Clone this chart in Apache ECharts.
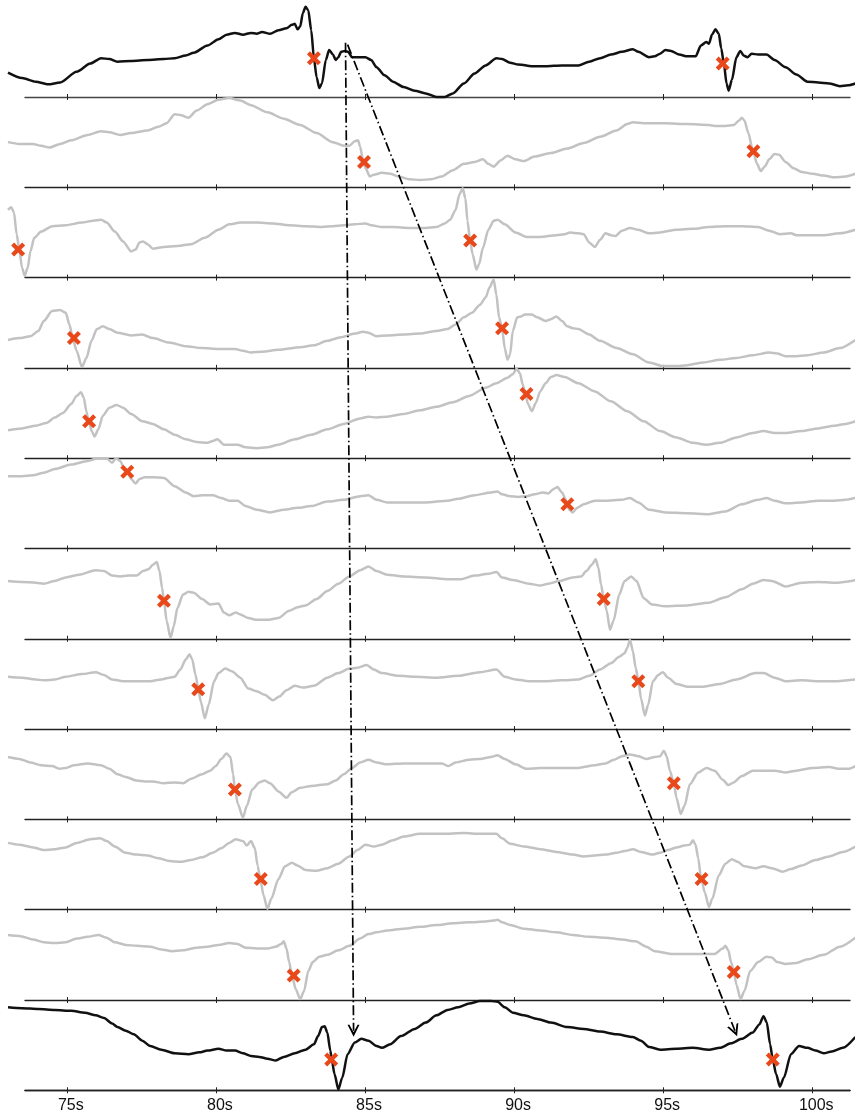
<!DOCTYPE html>
<html><head><meta charset="utf-8">
<script src="https://cdn.jsdelivr.net/npm/echarts@6/dist/echarts.min.js"></script>
<style>html,body{margin:0;padding:0;background:#fff}#c{width:855px;height:1114px}</style>
</head><body><div id="c"></div>
<script>
// ---- data (time in seconds, amplitude in % of panel height) ----
const tickSeconds = [75, 80, 85, 90, 95, 100];

const panel1 = [[73.01,27],[73.48,21],[73.94,17],[74.36,14],[74.76,16],[75.31,28],[75.77,37],[76.13,43],[76.41,42],[76.68,39],[77.14,40],[77.69,41],[78.24,42],[78.60,43],[78.97,46],[79.24,49],[79.70,57],[80.07,64],[80.34,69],[80.62,71],[80.89,69],[81.16,71],[81.35,70],[81.53,72],[81.80,70],[82.08,74],[82.35,76],[82.53,80],[82.63,81],[82.72,75],[82.81,78],[82.90,93],[82.99,100],[83.08,96],[83.18,74],[83.27,43],[83.36,22],[83.45,10],[83.54,15],[83.67,41],[83.78,52],[83.91,47],[84.00,41],[84.09,44],[84.18,50],[84.31,51],[84.42,50],[84.55,44],[84.73,44],[85.00,44],[85.19,41],[85.37,33],[85.64,24],[85.92,17],[86.28,11],[86.65,7],[87.02,4],[87.38,0],[87.66,0],[87.93,4],[88.30,15],[88.66,26],[89.03,35],[89.39,43],[89.58,42],[89.85,38],[90.12,36],[90.67,34],[91.04,34],[91.59,35],[92.14,35],[92.50,39],[92.87,43],[93.23,47],[93.60,50],[93.97,53],[94.15,50],[94.51,44],[94.70,45],[94.88,48],[95.06,52],[95.25,51],[95.52,47],[95.79,45],[96.07,45],[96.25,57],[96.43,61],[96.52,59],[96.62,69],[96.74,75],[96.85,70],[96.93,54],[97.02,37],[97.11,15],[97.18,7],[97.29,19],[97.44,44],[97.57,51],[97.68,46],[97.81,44],[97.95,48],[98.17,47],[98.45,47],[98.72,41],[99.09,33],[99.45,25],[99.82,17],[100.18,16],[100.55,15],[100.91,12],[101.19,13],[101.43,15]];
const panel2 = [[73.01,50],[73.39,48],[73.85,48],[74.12,46],[74.40,44],[74.76,48],[75.13,52],[75.68,58],[76.13,62],[76.41,61],[76.77,58],[77.14,60],[77.69,63],[78.05,67],[78.33,71],[78.60,81],[78.79,80],[79.06,77],[79.34,85],[79.70,92],[80.07,97],[80.43,99],[80.80,96],[81.16,91],[81.71,83],[82.26,76],[82.81,69],[83.36,60],[83.91,50],[84.27,46],[84.46,46],[84.64,51],[84.75,52],[84.82,45],[84.91,31],[85.00,21],[85.15,12],[85.28,14],[85.55,16],[85.83,15],[86.10,12],[86.47,9],[86.83,8],[87.20,9],[87.56,12],[87.93,19],[88.30,26],[88.66,28],[88.94,31],[89.12,26],[89.30,23],[89.54,30],[89.76,35],[90.03,31],[90.31,29],[90.67,34],[91.22,38],[91.77,43],[92.32,49],[92.87,56],[93.42,63],[93.78,70],[93.97,72],[94.33,71],[95.06,71],[95.79,70],[96.52,69],[96.71,68],[97.07,68],[97.35,69],[97.53,74],[97.62,77],[97.71,74],[97.84,60],[97.99,41],[98.13,26],[98.26,18],[98.39,23],[98.54,31],[98.72,37],[98.87,36],[99.09,28],[99.36,21],[99.63,17],[100.00,15],[100.37,13],[100.73,11],[101.10,12],[101.43,15]];
const panel3 = [[73.01,75],[73.12,78],[73.21,72],[73.30,48],[73.39,31],[73.48,11],[73.57,2],[73.67,11],[73.76,29],[73.89,44],[74.12,51],[74.49,57],[74.95,58],[75.49,61],[75.86,63],[76.13,64],[76.32,61],[76.59,51],[76.87,40],[77.14,29],[77.29,31],[77.42,39],[77.54,40],[77.69,37],[77.87,32],[78.24,34],[78.69,35],[79.15,37],[79.61,44],[80.07,53],[80.43,59],[80.80,61],[81.35,61],[81.89,60],[82.44,58],[82.99,57],[83.54,56],[83.91,57],[84.27,58],[84.64,59],[85.00,60],[85.19,58],[85.55,56],[85.92,56],[86.47,55],[87.02,55],[87.38,56],[87.66,60],[87.84,64],[88.02,75],[88.15,92],[88.26,99],[88.35,88],[88.42,63],[88.51,41],[88.59,26],[88.72,9],[88.81,15],[88.94,33],[89.12,53],[89.30,63],[89.43,64],[89.67,59],[90.03,50],[90.40,45],[90.86,45],[91.40,47],[91.68,48],[91.86,50],[92.14,49],[92.32,48],[92.50,39],[92.69,34],[92.87,42],[93.05,49],[93.23,47],[93.38,46],[93.60,52],[93.87,55],[94.15,53],[94.51,49],[94.88,50],[95.43,53],[95.98,54],[96.52,56],[97.07,57],[97.62,57],[98.17,56],[98.54,52],[98.90,48],[99.27,49],[99.45,47],[99.82,47],[100.37,47],[100.91,49],[101.43,53]];
const panel4 = [[73.01,31],[73.39,33],[73.76,35],[74.03,41],[74.21,52],[74.49,63],[74.76,64],[74.95,61],[75.07,48],[75.18,33],[75.31,19],[75.49,1],[75.64,11],[75.81,30],[75.99,43],[76.19,46],[76.41,43],[76.68,39],[77.14,36],[77.51,37],[77.87,33],[78.42,28],[78.97,24],[79.52,22],[80.07,21],[80.62,21],[80.89,19],[81.16,17],[81.53,18],[82.08,20],[82.81,23],[83.27,25],[83.72,30],[84.18,34],[84.64,38],[84.91,40],[85.10,39],[85.37,35],[85.73,36],[86.28,37],[86.83,38],[87.38,41],[87.75,43],[88.02,48],[88.30,56],[88.57,61],[88.84,70],[89.03,78],[89.16,89],[89.30,98],[89.39,81],[89.48,56],[89.58,44],[89.67,22],[89.76,9],[89.85,15],[89.94,41],[90.09,56],[90.22,57],[90.34,59],[90.58,59],[90.76,56],[91.04,52],[91.22,54],[91.40,57],[91.59,52],[91.77,46],[91.95,44],[92.14,43],[92.50,37],[92.87,30],[93.42,22],[93.97,15],[94.51,6],[94.97,2],[95.43,2],[95.79,3],[96.34,6],[96.89,9],[97.44,11],[97.99,14],[98.54,17],[98.81,16],[99.09,13],[99.45,13],[99.82,14],[100.37,17],[100.91,22],[101.43,31]];
const panel5 = [[73.01,31],[73.48,33],[73.94,36],[74.30,39],[74.58,45],[74.85,50],[75.13,60],[75.31,69],[75.46,73],[75.55,67],[75.64,52],[75.71,41],[75.82,30],[75.91,24],[76.04,32],[76.19,47],[76.41,56],[76.65,59],[76.87,56],[77.14,49],[77.51,41],[77.87,38],[78.24,32],[78.60,26],[78.97,21],[79.34,18],[79.70,17],[79.88,19],[80.03,21],[80.25,15],[80.52,15],[80.71,15],[80.98,12],[81.35,11],[81.71,12],[82.08,15],[82.63,21],[83.18,26],[83.72,32],[84.27,38],[84.82,44],[85.10,46],[85.37,45],[85.73,46],[86.28,49],[86.83,53],[87.38,57],[87.93,62],[88.48,69],[89.03,78],[89.39,83],[89.76,89],[89.94,93],[90.07,99],[90.18,94],[90.27,82],[90.36,71],[90.45,60],[90.58,52],[90.71,61],[90.86,74],[91.04,83],[91.22,90],[91.40,92],[91.68,90],[92.14,83],[92.69,74],[93.23,63],[93.78,52],[94.33,41],[94.88,30],[95.43,23],[95.98,17],[96.43,15],[96.89,17],[97.44,23],[97.99,28],[98.35,30],[98.72,28],[99.09,28],[99.63,30],[100.18,33],[100.73,36],[101.10,38],[101.43,41]];
const panel6 = [[73.01,80],[73.48,80],[73.85,81],[74.21,84],[74.58,88],[75.13,93],[75.68,97],[76.04,100],[76.32,100],[76.50,95],[76.63,100],[76.77,97],[76.92,88],[77.01,85],[77.14,77],[77.29,72],[77.42,77],[77.60,79],[77.87,79],[78.24,78],[78.60,69],[78.97,62],[79.24,58],[79.52,59],[79.88,59],[80.16,56],[80.43,53],[80.71,53],[80.98,47],[81.35,43],[81.80,40],[82.26,43],[82.72,45],[83.18,47],[83.72,52],[84.27,54],[84.82,58],[85.10,59],[85.37,54],[85.73,51],[86.28,51],[87.02,51],[87.75,53],[88.11,55],[88.66,59],[89.21,62],[89.43,63],[89.58,60],[89.85,58],[90.12,57],[90.40,58],[90.67,60],[90.95,62],[91.13,61],[91.31,66],[91.44,68],[91.59,62],[91.72,54],[91.83,43],[91.95,40],[92.10,45],[92.32,49],[92.69,53],[93.05,53],[93.60,54],[93.87,56],[94.15,51],[94.51,43],[95.06,40],[95.79,39],[96.52,38],[97.07,41],[97.62,49],[98.17,54],[98.45,56],[98.72,53],[99.09,50],[99.63,51],[100.18,53],[100.73,53],[101.10,54],[101.43,56]];
const panel7 = [[73.01,64],[73.48,63],[73.94,62],[74.21,61],[74.58,64],[74.95,68],[75.40,71],[75.95,76],[76.23,75],[76.50,70],[76.77,69],[77.05,70],[77.32,70],[77.54,75],[77.72,77],[77.87,82],[78.00,85],[78.09,75],[78.18,56],[78.24,42],[78.33,20],[78.46,1],[78.57,14],[78.69,34],[78.88,49],[79.06,52],[79.24,51],[79.52,44],[79.79,38],[80.07,39],[80.25,29],[80.43,26],[80.65,29],[80.80,27],[81.07,23],[81.35,21],[81.71,21],[82.08,23],[82.44,31],[82.72,35],[82.99,37],[83.36,44],[83.72,53],[84.09,61],[84.46,69],[84.82,76],[85.10,80],[85.37,75],[85.73,71],[86.28,69],[87.02,68],[87.75,66],[88.20,66],[88.66,70],[89.12,72],[89.39,74],[89.58,68],[89.94,65],[90.49,61],[90.86,59],[91.13,61],[91.50,64],[91.95,68],[92.23,69],[92.41,75],[92.59,82],[92.72,88],[92.81,79],[92.90,60],[92.99,45],[93.09,31],[93.20,10],[93.32,20],[93.51,49],[93.69,64],[93.91,69],[94.09,64],[94.33,45],[94.61,38],[95.06,36],[95.79,37],[96.52,40],[97.07,46],[97.62,55],[97.99,61],[98.35,65],[98.63,64],[99.09,58],[99.63,62],[100.18,63],[100.73,62],[101.43,65]];
const panel8 = [[73.01,58],[73.48,57],[73.94,55],[74.21,54],[74.58,55],[74.95,58],[75.49,61],[75.95,63],[76.23,60],[76.50,55],[76.87,53],[77.32,53],[77.78,53],[78.15,55],[78.42,57],[78.60,58],[78.79,66],[78.97,77],[79.10,83],[79.19,77],[79.30,60],[79.39,45],[79.48,30],[79.61,12],[79.74,27],[79.92,53],[80.07,62],[80.29,67],[80.52,64],[80.80,57],[81.07,45],[81.35,42],[81.62,38],[81.89,32],[82.11,36],[82.35,43],[82.63,48],[82.90,46],[83.27,48],[83.72,57],[84.09,62],[84.46,67],[84.73,68],[85.04,71],[85.28,66],[85.55,62],[86.10,59],[86.65,58],[87.38,57],[88.11,59],[88.84,63],[89.39,66],[89.67,58],[90.03,55],[90.49,53],[91.04,53],[91.59,54],[92.14,55],[92.50,59],[92.87,66],[93.23,73],[93.51,80],[93.69,84],[93.78,90],[93.87,99],[93.97,86],[94.06,68],[94.15,54],[94.24,34],[94.37,15],[94.48,27],[94.64,53],[94.82,60],[94.97,63],[95.15,57],[95.43,50],[95.79,47],[96.34,47],[96.89,50],[97.44,55],[98.08,62],[98.35,62],[98.72,57],[99.09,53],[99.63,54],[100.18,53],[100.73,53],[101.43,55]];
const panel9 = [[73.01,69],[73.39,67],[73.76,63],[74.12,60],[74.49,59],[74.73,56],[74.95,57],[75.22,60],[75.68,62],[76.13,60],[76.41,56],[76.68,50],[76.96,47],[77.32,43],[77.60,42],[77.87,42],[78.24,40],[78.60,41],[78.88,40],[79.15,45],[79.52,50],[79.79,54],[79.98,59],[80.16,67],[80.34,73],[80.47,69],[80.56,50],[80.62,33],[80.72,17],[80.89,2],[81.02,15],[81.20,33],[81.44,41],[81.62,43],[81.80,40],[82.08,31],[82.35,24],[82.53,30],[82.81,35],[83.18,37],[83.72,39],[84.00,43],[84.27,50],[84.55,57],[84.82,63],[85.10,66],[85.37,63],[85.73,61],[86.28,62],[87.02,62],[87.56,62],[87.78,59],[88.02,63],[88.48,66],[88.84,67],[89.21,69],[89.43,71],[89.67,67],[90.03,61],[90.40,56],[90.86,57],[91.40,57],[92.14,57],[92.69,60],[93.05,62],[93.33,66],[93.60,70],[93.87,72],[94.15,70],[94.42,67],[94.70,69],[94.88,70],[95.01,76],[95.10,70],[95.21,54],[95.34,40],[95.43,24],[95.57,6],[95.70,15],[95.88,39],[96.16,52],[96.43,57],[96.71,54],[96.98,44],[97.17,38],[97.35,41],[97.62,48],[97.99,54],[98.35,54],[98.72,54],[99.09,52],[99.45,54],[100.00,57],[100.55,58],[100.91,56],[101.19,56],[101.43,59]];
const panel10 = [[73.01,74],[73.39,72],[73.85,69],[74.21,66],[74.58,67],[74.95,69],[75.31,74],[75.77,78],[76.10,79],[76.32,76],[76.59,70],[76.96,63],[77.32,61],[77.69,60],[78.05,57],[78.42,54],[78.79,53],[79.15,55],[79.52,58],[79.88,63],[80.16,68],[80.43,74],[80.65,78],[80.89,76],[81.02,71],[81.16,76],[81.29,68],[81.38,49],[81.47,34],[81.58,16],[81.71,1],[81.84,12],[82.08,34],[82.30,48],[82.53,52],[82.72,49],[82.99,44],[83.36,43],[83.72,46],[84.09,51],[84.46,59],[84.73,66],[85.00,72],[85.28,70],[85.55,72],[85.92,77],[86.28,81],[86.83,84],[87.56,84],[88.30,85],[88.84,84],[89.39,84],[89.58,79],[89.85,73],[90.31,70],[90.86,67],[91.40,64],[91.95,61],[92.32,59],[92.69,60],[93.05,61],[93.42,63],[93.69,65],[93.97,67],[94.24,64],[94.61,61],[94.88,63],[95.15,66],[95.43,69],[95.70,71],[95.88,72],[95.98,77],[96.07,72],[96.16,57],[96.25,36],[96.38,19],[96.52,3],[96.63,12],[96.85,38],[97.07,51],[97.29,56],[97.48,53],[97.71,48],[98.08,46],[98.35,48],[98.63,46],[98.99,42],[99.27,45],[99.63,49],[100.09,55],[100.55,59],[101.01,64],[101.43,70]];
const panel11 = [[73.01,72],[73.39,71],[73.85,67],[74.21,64],[74.58,63],[74.95,64],[75.31,68],[75.68,70],[76.04,72],[76.32,69],[76.59,64],[76.96,61],[77.32,60],[77.78,59],[78.15,56],[78.51,54],[78.88,55],[79.34,58],[79.70,59],[80.07,61],[80.43,63],[80.71,62],[80.98,58],[81.35,57],[81.71,57],[81.99,59],[82.17,62],[82.26,65],[82.35,57],[82.44,42],[82.53,28],[82.66,12],[82.81,1],[82.94,10],[83.08,32],[83.23,42],[83.45,48],[83.72,50],[84.09,55],[84.46,60],[84.82,68],[85.10,73],[85.37,75],[85.73,77],[86.28,79],[86.83,81],[87.38,83],[87.93,85],[88.48,86],[89.03,87],[89.30,88],[89.43,89],[89.58,86],[89.85,83],[90.31,79],[90.86,77],[91.40,75],[91.95,72],[92.50,70],[93.05,69],[93.60,67],[94.06,65],[94.42,59],[94.70,54],[95.25,51],[95.79,51],[96.34,51],[96.71,51],[96.98,57],[97.07,60],[97.17,55],[97.26,42],[97.35,32],[97.44,17],[97.58,1],[97.71,10],[97.90,32],[98.17,42],[98.45,48],[98.63,47],[98.81,42],[99.09,40],[99.45,41],[99.82,45],[100.37,50],[100.91,59],[101.43,69]];
const panel12 = [[73.01,92],[73.48,91],[74.03,90],[74.58,89],[75.13,88],[75.59,86],[75.95,83],[76.23,80],[76.50,74],[76.68,70],[76.96,66],[77.23,62],[77.51,55],[77.78,49],[78.15,45],[78.60,41],[79.06,40],[79.43,42],[79.70,44],[80.07,46],[80.34,44],[80.62,44],[80.89,41],[81.16,38],[81.44,37],[81.71,35],[81.99,33],[82.26,37],[82.63,41],[82.99,45],[83.27,51],[83.41,60],[83.54,70],[83.63,71],[83.72,64],[83.82,44],[83.87,34],[83.96,18],[84.09,1],[84.22,14],[84.40,40],[84.64,53],[84.86,57],[85.10,55],[85.37,49],[85.55,47],[85.83,51],[86.19,60],[86.65,68],[87.02,75],[87.38,83],[87.75,89],[88.11,92],[88.48,96],[88.84,99],[89.21,99],[89.43,98],[89.67,92],[89.94,86],[90.31,83],[90.76,79],[91.22,75],[91.77,70],[92.32,68],[92.87,65],[93.42,62],[93.97,59],[94.24,55],[94.51,48],[94.88,45],[95.43,46],[95.98,47],[96.52,45],[96.89,47],[97.26,52],[97.62,57],[97.99,64],[98.21,73],[98.35,82],[98.46,75],[98.57,51],[98.66,34],[98.77,18],[98.90,4],[99.03,14],[99.27,40],[99.54,49],[99.82,47],[100.09,44],[100.37,41],[100.64,43],[101.01,47],[101.43,59]];

const marks1 = [[83.27,43],[96.98,37]];
const marks2 = [[84.95,28],[98.01,40]];
const marks3 = [[73.35,31],[88.51,41]];
const marks4 = [[75.22,33],[89.58,44]];
const marks5 = [[75.73,41],[90.40,71]];
const marks6 = [[77.01,85],[91.77,49]];
const marks7 = [[78.24,42],[92.99,44]];
const marks8 = [[79.39,44],[94.15,53]];
const marks9 = [[80.62,33],[95.34,40]];
const marks10 = [[81.49,34],[96.27,34]];
const marks11 = [[82.59,27],[97.35,31]];
const marks12 = [[83.85,34],[98.66,34]];

// arrows in (seconds, panel-units counted from the bottom axis; 12 = top line)
const arrowToFirst = [[84.33, 11.60], [84.60, 0.66]];
const arrowToSecond = [[84.40, 11.58], [97.39, 0.66]];

const traces = [panel1,panel2,panel3,panel4,panel5,panel6,panel7,panel8,panel9,panel10,panel11,panel12];
const marks = [marks1,marks2,marks3,marks4,marks5,marks6,marks7,marks8,marks9,marks10,marks11,marks12];

// ---- layout ----
const W = 855;
const X_MIN = 73.58, X_MAX = 101.25;
const TOP = 6.7, PH = 90.3, LEFT = 25, RIGHT = 5;
const PPS = (W - LEFT - RIGHT) / (X_MAX - X_MIN);
// wider plotting range (whole page width) with exactly the same scale
const CX_MIN = X_MIN - LEFT / PPS, CX_MAX = X_MAX + RIGHT / PPS;
const AXIS_COLOR = '#222';
const BLACK = '#111', GRAY = '#c2c2c2', MARK = '#E8481A';
const crossPath = 'path://M0,2.8 L2.8,0 L6.5,3.7 L10.2,0 L13,2.8 L9.3,6.5 L13,10.2 L10.2,13 L6.5,9.3 L2.8,13 L0,10.2 L3.7,6.5 Z';
const chevron = 'path://M5,0 L10,11 L8.4,11 L5,4 L1.6,11 L0,11 Z';

const grids = [], xAxes = [], yAxes = [], series = [];
const n = traces.length;
for (let i = 0; i < n; i++) {
  const last = i === n - 1;
  // axis frame grid (separator lines + ticks + labels)
  grids.push({ left: LEFT, right: RIGHT, top: TOP + i * PH, height: PH });
  xAxes.push({
    type: 'value', gridIndex: 2 * i, position: 'top', min: X_MIN, max: X_MAX,
    axisLine: { show: true, lineStyle: { color: i === 0 ? '#444' : AXIS_COLOR, width: 1.3 } },
    axisTick: { show: true, inside: true, length: 3, customValues: tickSeconds, lineStyle: { color: AXIS_COLOR, width: 1 } },
    axisLabel: { show: false }, splitLine: { show: false }
  });
  xAxes.push({
    type: 'value', gridIndex: 2 * i, position: 'bottom', min: X_MIN, max: X_MAX,
    axisLine: { show: last, lineStyle: { color: AXIS_COLOR, width: 1.3 } },
    axisTick: { show: true, inside: true, length: 3, customValues: tickSeconds, lineStyle: { color: AXIS_COLOR, width: 1 } },
    axisLabel: {
      show: last, customValues: tickSeconds, formatter: v => v + 's', margin: 7,
      fontFamily: 'Liberation Sans, Arial, sans-serif', fontSize: 16, color: '#111', padding: [0, 0, 0, 7]
    },
    splitLine: { show: false }
  });
  yAxes.push({ type: 'value', gridIndex: 2 * i, min: 0, max: 100, show: false });
  // plotting grid spanning the full page width, same time scale
  grids.push({ left: 0, right: 0, top: TOP + i * PH, height: PH });
  xAxes.push({ type: 'value', gridIndex: 2 * i + 1, min: CX_MIN, max: CX_MAX, show: false });
  yAxes.push({ type: 'value', gridIndex: 2 * i + 1, min: 0, max: 100, show: false });

  const col = (i === 0 || last) ? BLACK : GRAY;
  series.push({
    type: 'line', xAxisIndex: 3 * i + 2, yAxisIndex: 2 * i + 1, data: traces[i], showSymbol: false, symbol: 'none',
    smooth: 0.25, smoothMonotone: 'x',
    clip: false, lineStyle: { color: col, width: 2.5 }, z: 3, silent: true
  });
  series.push({
    type: 'scatter', xAxisIndex: 3 * i + 2, yAxisIndex: 2 * i + 1, data: marks[i], symbol: crossPath, symbolSize: [14, 14],
    clip: false, itemStyle: { color: MARK, opacity: 1 }, z: 5, silent: true
  });
}
// overlay grid for the arrows
grids.push({ left: LEFT, right: RIGHT, top: TOP, height: PH * n });
xAxes.push({ type: 'value', gridIndex: 2 * n, min: X_MIN, max: X_MAX, show: false });
yAxes.push({ type: 'value', gridIndex: 2 * n, min: 0, max: n, show: false });
series.push({
  type: 'lines', coordinateSystem: 'cartesian2d', xAxisIndex: 3 * n, yAxisIndex: 2 * n,
  data: [{ coords: arrowToFirst }, { coords: arrowToSecond }],
  symbol: ['none', chevron], symbolSize: [9, 12],
  lineStyle: { color: '#000', width: 1.7, type: [10, 3, 1.5, 3], opacity: 1, curveness: 0 },
  itemStyle: { color: '#000' }, z: 10, silent: true
});

const chart = echarts.init(document.getElementById('c'), null, { renderer: 'canvas' });
chart.setOption({ animation: false, backgroundColor: '#fff', grid: grids, xAxis: xAxes, yAxis: yAxes, series });
</script>
</body></html>
